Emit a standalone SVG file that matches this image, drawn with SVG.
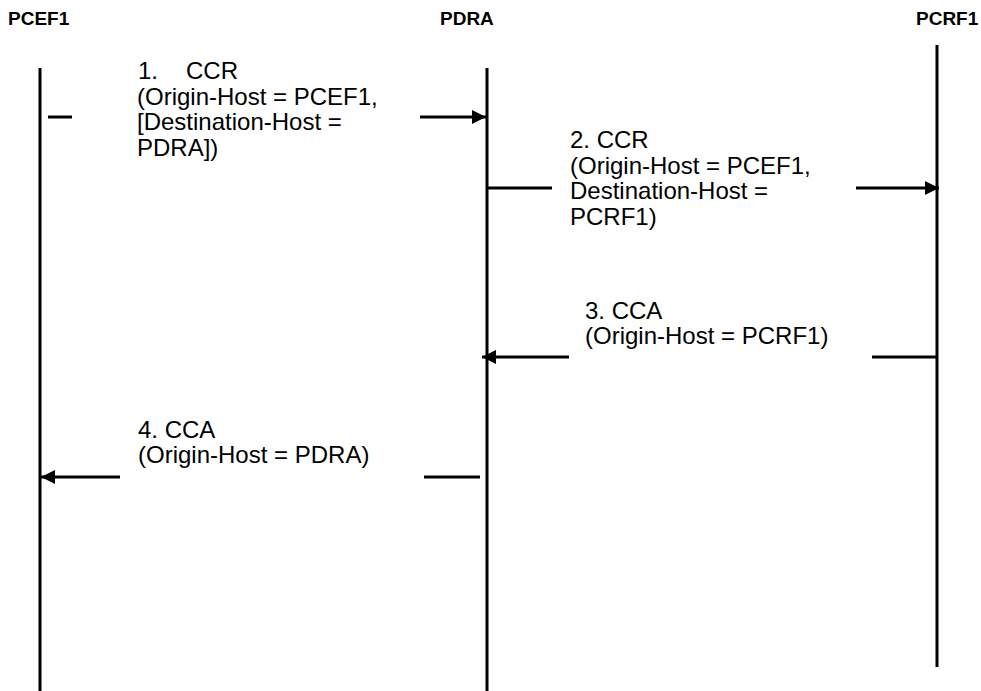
<svg xmlns="http://www.w3.org/2000/svg" width="981" height="691" viewBox="0 0 981 691">
<style>
.hdr{font-family:"Liberation Sans",Arial,sans-serif;font-size:19px;font-weight:bold;fill:#000}
.msg{font-family:"Liberation Sans",Arial,sans-serif;font-size:24px;fill:#000}
.life{stroke:#000;stroke-width:3;fill:none}
.conn{stroke:#000;stroke-width:3;fill:none}
</style>
<defs>
<marker id="ah" viewBox="0 0 10 10" refX="10" refY="5" markerWidth="4.7" markerHeight="4.7" orient="auto" markerUnits="strokeWidth">
<path d="M0,0 L10,5 L0,10 Z" fill="#000"/>
</marker>
</defs>
<rect width="981" height="691" fill="#fff"/>
<g id="PCEF1">
<text class="hdr" x="8" y="25">PCEF1</text>
<line class="life" x1="40" y1="68" x2="40" y2="691"/>
</g>
<g id="PDRA">
<text class="hdr" x="440" y="25">PDRA</text>
<line class="life" x1="487" y1="68" x2="487" y2="691"/>
</g>
<g id="PCRF1">
<text class="hdr" x="916" y="25">PCRF1</text>
<line class="life" x1="937" y1="45" x2="937" y2="667"/>
</g>
<g id="connectors">
<line class="conn" x1="48" y1="117" x2="72" y2="117"/>
<line class="conn" x1="420" y1="117" x2="486" y2="117" marker-end="url(#ah)"/>
<line class="conn" x1="488" y1="188" x2="552" y2="188"/>
<line class="conn" x1="856" y1="188" x2="939" y2="188" marker-end="url(#ah)"/>
<line class="conn" x1="936" y1="357" x2="872" y2="357"/>
<line class="conn" x1="569" y1="357" x2="482" y2="357" marker-end="url(#ah)"/>
<line class="conn" x1="480" y1="477" x2="424" y2="477"/>
<line class="conn" x1="120" y1="477" x2="41" y2="477" marker-end="url(#ah)"/>
</g>
<g id="msg1">
<text class="msg"><tspan x="138" y="79">1.</tspan><tspan x="186" y="79">CCR</tspan><tspan x="137" y="104.5">(Origin-Host = PCEF1,</tspan><tspan x="137" y="130">[Destination-Host =</tspan><tspan x="137" y="155.5">PDRA])</tspan></text>
</g>
<g id="msg2">
<text class="msg"><tspan x="570" y="148">2. CCR</tspan><tspan x="570" y="173.5">(Origin-Host = PCEF1,</tspan><tspan x="570" y="199">Destination-Host =</tspan><tspan x="570" y="224.5">PCRF1)</tspan></text>
</g>
<g id="msg3">
<text class="msg"><tspan x="585" y="319">3. CCA</tspan><tspan x="585" y="344">(Origin-Host = PCRF1)</tspan></text>
</g>
<g id="msg4">
<text class="msg"><tspan x="138" y="438">4. CCA</tspan><tspan x="138" y="463">(Origin-Host = PDRA)</tspan></text>
</g>
</svg>
